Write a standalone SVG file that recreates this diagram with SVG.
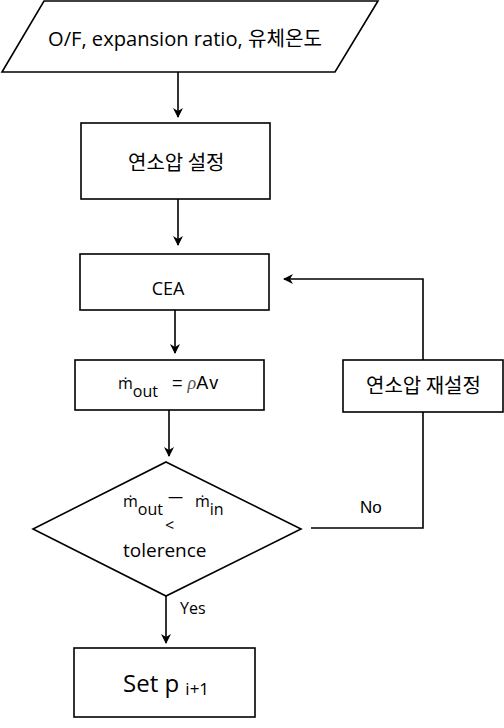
<svg xmlns="http://www.w3.org/2000/svg" width="504" height="728" viewBox="0 0 504 728">
<style>
.s{fill:#fff;stroke:#000;stroke-width:1.6}
.t{font-family:"Open Sans","Noto Sans CJK KR",sans-serif;fill:#000}
.k{font-family:"Noto Sans CJK KR","Open Sans",sans-serif;fill:#000}
.a{font-family:"Liberation Sans",Arial,sans-serif;fill:#000}
.c{fill:none;stroke:#000;stroke-width:1.6}
</style>
<defs>
<marker id="ah" markerWidth="10" markerHeight="10" refX="9" refY="5" orient="auto" markerUnits="userSpaceOnUse">
<path d="M0,0 L10,5 L0,10 L3,5 Z" fill="#000"/>
</marker>
</defs>
<rect width="504" height="728" fill="#fff"/>
<g id="connectors">
<line class="c" x1="178" y1="72" x2="178" y2="117" marker-end="url(#ah)"/>
<line class="c" x1="178" y1="199" x2="178" y2="245" marker-end="url(#ah)"/>
<line class="c" x1="175" y1="310" x2="175" y2="353" marker-end="url(#ah)"/>
<line class="c" x1="169" y1="410" x2="169" y2="456" marker-end="url(#ah)"/>
<line class="c" x1="166" y1="596" x2="166" y2="643" marker-end="url(#ah)"/>
<polyline class="c" points="311,528 423,528 423,279 284,279" marker-end="url(#ah)"/>
<text class="a" x="360" y="513" font-size="17">No</text>
<text class="t" x="180" y="614" font-size="16">Yes</text>
</g>
<g id="input">
<polygon class="s" points="44,1 378,1 335,72 2,72"/>
<text class="t" x="48" y="46" font-size="20" textLength="274" lengthAdjust="spacingAndGlyphs">O/F, expansion ratio, 유체온도</text>
</g>
<g id="set-pressure">
<rect class="s" x="81" y="123" width="189" height="76"/>
<text class="k" x="128" y="170" font-size="20">연소압 설정</text>
</g>
<g id="cea">
<rect class="s" x="80" y="254" width="189" height="56"/>
<text class="t" x="168" y="295" font-size="18" text-anchor="middle">CEA</text>
</g>
<g id="mout">
<rect class="s" x="75" y="360" width="189" height="50"/>
<text class="t" x="118" y="389" font-size="16">ṁ<tspan dy="8">out</tspan></text>
<text class="a" x="172" y="389" font-size="18">= <tspan font-family="'Liberation Serif',serif" font-style="italic" fill="#555">ρ</tspan><tspan letter-spacing="1.5">Av</tspan></text>
</g>
<g id="decision">
<polygon class="s" points="166,462 301,529 166,596 33,529"/>
<text class="t" x="123" y="507" font-size="16">ṁ<tspan dy="8">out</tspan></text>
<text class="t" x="168" y="502" font-size="15" fill="#999">—</text>
<text class="t" x="195" y="507" font-size="16">ṁ<tspan dy="8">in</tspan></text>
<text class="t" x="165" y="531" font-size="16">&lt;</text>
<text class="t" x="123" y="557" font-size="19">tolerence</text>
</g>
<g id="reset">
<rect class="s" x="343" y="360" width="160" height="52"/>
<text class="k" x="366" y="393" font-size="20">연소압 재설정</text>
</g>
<g id="set-p">
<rect class="s" x="74" y="648" width="181" height="69"/>
<text class="t" x="123" y="692" font-size="24">Set p <tspan font-size="17" dy="3">i+1</tspan></text>
</g>
</svg>
